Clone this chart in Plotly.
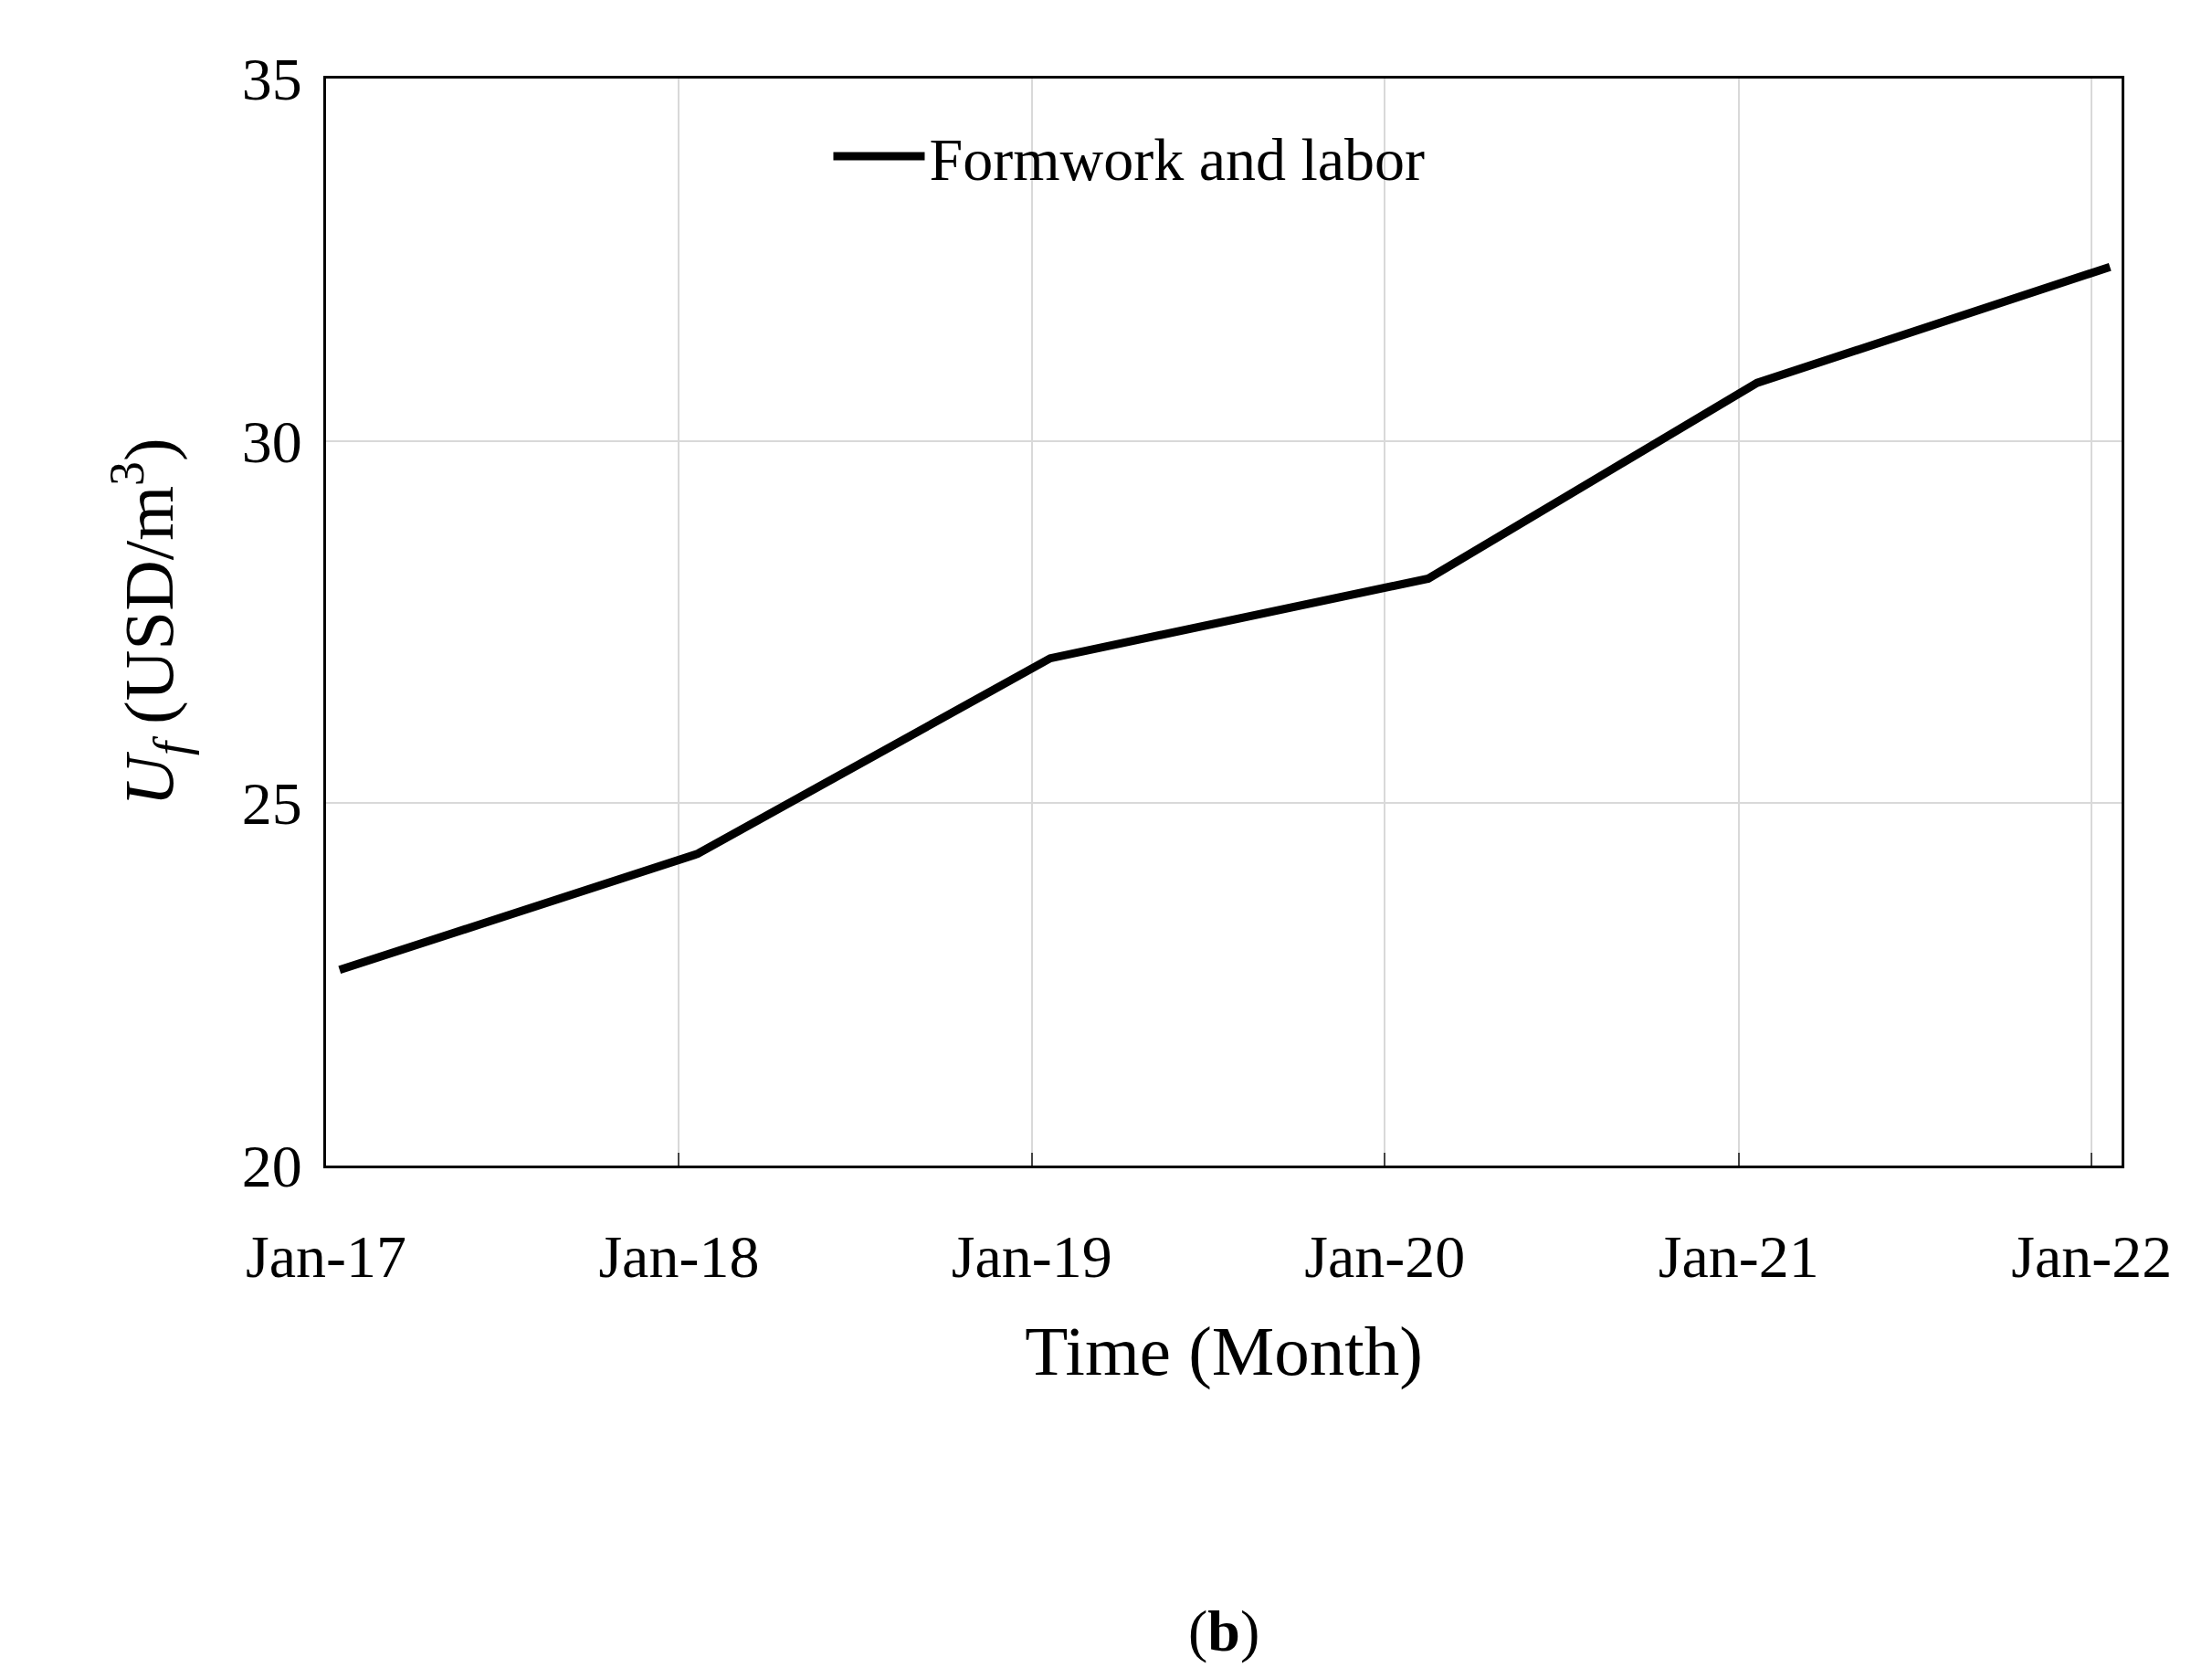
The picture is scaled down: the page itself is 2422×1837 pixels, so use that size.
import plotly.graph_objects as go

dates = ["2017-01-15", "2018-01-20", "2019-01-20", "2020-02-15", "2021-01-20", "2022-01-20"]
values = [22.7, 24.3, 27.0, 28.1, 30.8, 32.4]
tick_vals = ["2017-01-01", "2018-01-01", "2019-01-01", "2020-01-01", "2021-01-01", "2022-01-01"]
tick_text = ["Jan-17", "Jan-18", "Jan-19", "Jan-20", "Jan-21", "Jan-22"]

font = "Liberation Serif, DejaVu Serif, serif"
fig = go.Figure()
fig.add_trace(go.Scatter(x=dates, y=values, mode="lines", name="Formwork and labor",
                         line=dict(color="black", width=9)))
fig.update_layout(
    width=2422, height=1837, plot_bgcolor="white", paper_bgcolor="white",
    margin=dict(l=349, r=107, t=78, b=569),
    showlegend=True,
    font=dict(family=font, size=64, color="black"),
    legend=dict(x=0.28, y=0.97, xanchor="left", yanchor="top", bgcolor="rgba(0,0,0,0)",
                font=dict(size=66), itemwidth=100),
    xaxis=dict(type="date", range=["2017-01-01", "2022-02-01"], tickvals=tick_vals, ticktext=tick_text,
               showgrid=True, gridcolor="#d9d9d9", gridwidth=2, showline=True, linecolor="black",
               linewidth=3, mirror=True, ticks="inside", ticklen=14, tickwidth=2,
               ticklabelstandoff=40,
               title=dict(text="Time (Month)", standoff=40), tickfont=dict(size=66)),
    yaxis=dict(range=[20, 35], tickvals=[20, 25, 30, 35], showgrid=True, gridcolor="#d9d9d9",
               gridwidth=2, showline=True, linecolor="black", linewidth=3, mirror=True,
               ticks="", ticklabelstandoff=10,
               title=dict(text="<i>U<sub>f</sub></i> (USD/m<sup>3</sup>)", standoff=50),
               tickfont=dict(size=66)),
)
fig.add_annotation(text="(<b>b</b>)", xref="paper", yref="paper", x=0.5, y=-0.46,
                   showarrow=False, font=dict(size=64))
fig.write_html("out.html")
